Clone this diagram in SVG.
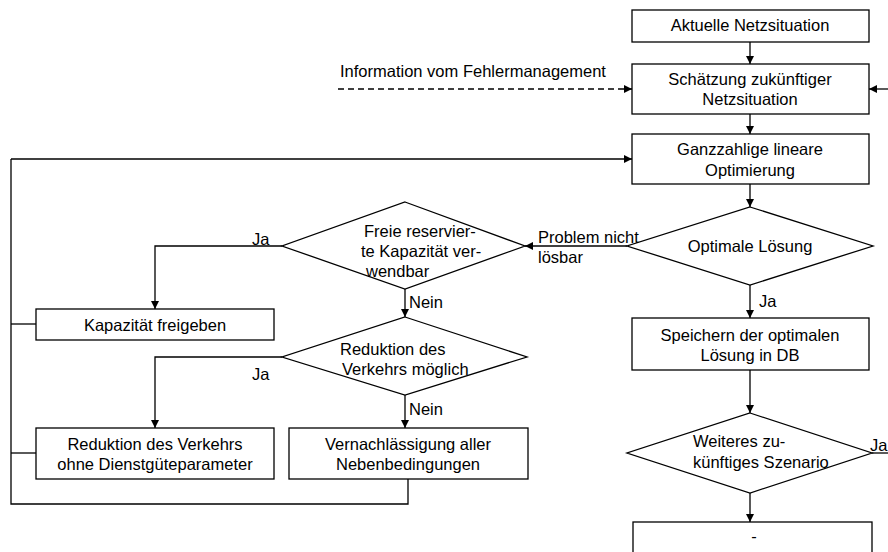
<svg xmlns="http://www.w3.org/2000/svg" width="888" height="552" viewBox="0 0 888 552">
<defs>
<marker id="ah" viewBox="0 0 10 10" refX="10" refY="5" markerWidth="8" markerHeight="8" markerUnits="userSpaceOnUse" orient="auto">
<path d="M0,0 L10,5 L0,10 z" fill="#000"/>
</marker>
<style>
.box{fill:#fff;stroke:#000;stroke-width:1.3}
.ln{fill:none;stroke:#000;stroke-width:1.3}
.arr{fill:none;stroke:#000;stroke-width:1.3;marker-end:url(#ah)}
.dash{stroke-dasharray:6 4}
text{font-family:"Liberation Sans",Arial,sans-serif;font-size:16.5px;fill:#000}
.c{text-anchor:middle}
</style>
</defs>
<rect width="888" height="552" fill="#fff"/>

<g id="connectors">
<line class="arr" x1="750" y1="42" x2="750" y2="64"/>
<line class="arr dash" x1="338" y1="89" x2="632" y2="89"/>
<line class="arr" x1="888" y1="89" x2="869" y2="89"/>
<line class="arr" x1="750" y1="114" x2="750" y2="134"/>
<line class="arr" x1="750" y1="184" x2="750" y2="207"/>
<line class="arr" x1="627" y1="246" x2="525" y2="246"/>
<polyline class="arr" points="282,246 155,246 155,309"/>
<line class="arr" x1="405" y1="289" x2="405" y2="317"/>
<polyline class="arr" points="282,357 155,357 155,428"/>
<line class="arr" x1="405" y1="395" x2="405" y2="428"/>
<line class="arr" x1="750" y1="285" x2="750" y2="318"/>
<line class="arr" x1="750" y1="370" x2="750" y2="413"/>
<line class="arr" x1="750" y1="493" x2="750" y2="522"/>
<line class="ln" x1="872" y1="453" x2="888" y2="453"/>
<polyline class="ln" points="408,479 408,504 11,504 11,159"/>
<line class="arr" x1="11" y1="159" x2="632" y2="159"/>
<line class="ln" x1="11" y1="324" x2="36" y2="324"/>
<line class="ln" x1="11" y1="453" x2="36" y2="453"/>
<text x="340" y="77">Information vom Fehlermanagement</text>
<text x="538" y="243">Problem nicht</text>
<text x="538" y="263">lösbar</text>
<text x="252" y="245">Ja</text>
<text x="409" y="308">Nein</text>
<text x="252" y="380">Ja</text>
<text x="409" y="415">Nein</text>
<text x="759" y="307">Ja</text>
<text x="870" y="451">Ja</text>
</g>

<g id="aktuelle">
<rect class="box" x="632" y="10" width="237" height="32"/>
<text class="c" x="750" y="31">Aktuelle Netzsituation</text>
</g>

<g id="schaetzung">
<rect class="box" x="632" y="64" width="237" height="50"/>
<text class="c" x="750" y="85">Schätzung zukünftiger</text>
<text class="c" x="750" y="105">Netzsituation</text>
</g>

<g id="ganzzahlig">
<rect class="box" x="632" y="134" width="237" height="50"/>
<text class="c" x="750" y="155">Ganzzahlige lineare</text>
<text class="c" x="750" y="176">Optimierung</text>
</g>

<g id="optimal">
<polygon class="box" points="750,207 873,246 750,285 627,246"/>
<text class="c" x="750" y="252">Optimale Lösung</text>
</g>

<g id="freie">
<polygon class="box" points="405,202 525,246 405,289 282,246"/>
<text x="364" y="237">Freie reservier-</text>
<text x="361" y="257">te Kapazität ver-</text>
<text x="366" y="277">wendbar</text>
</g>

<g id="kapazitaet">
<rect class="box" x="36" y="309" width="238" height="31"/>
<text class="c" x="155" y="331">Kapazität freigeben</text>
</g>

<g id="reduktion-moeglich">
<polygon class="box" points="405,317 527,357 405,395 282,357"/>
<text x="340" y="355">Reduktion des</text>
<text x="342" y="375">Verkehrs möglich</text>
</g>

<g id="reduktion">
<rect class="box" x="36" y="428" width="238" height="51"/>
<text class="c" x="155" y="450">Reduktion des Verkehrs</text>
<text class="c" x="155" y="470">ohne Dienstgüteparameter</text>
</g>

<g id="vernachlaessigung">
<rect class="box" x="289" y="428" width="239" height="51"/>
<text class="c" x="408" y="450">Vernachlässigung aller</text>
<text class="c" x="408" y="470">Nebenbedingungen</text>
</g>

<g id="speichern">
<rect class="box" x="632" y="318" width="237" height="52"/>
<text class="c" x="750" y="341">Speichern der optimalen</text>
<text class="c" x="750" y="361">Lösung in DB</text>
</g>

<g id="weiteres">
<polygon class="box" points="750,413 872,453 750,493 627,453"/>
<text x="693" y="447">Weiteres zu-</text>
<text x="693" y="468">künftiges Szenario</text>
</g>

<g id="ende">
<rect class="box" x="633" y="522" width="239" height="40"/>
<text class="c" x="754" y="542">-</text>
</g>
</svg>
